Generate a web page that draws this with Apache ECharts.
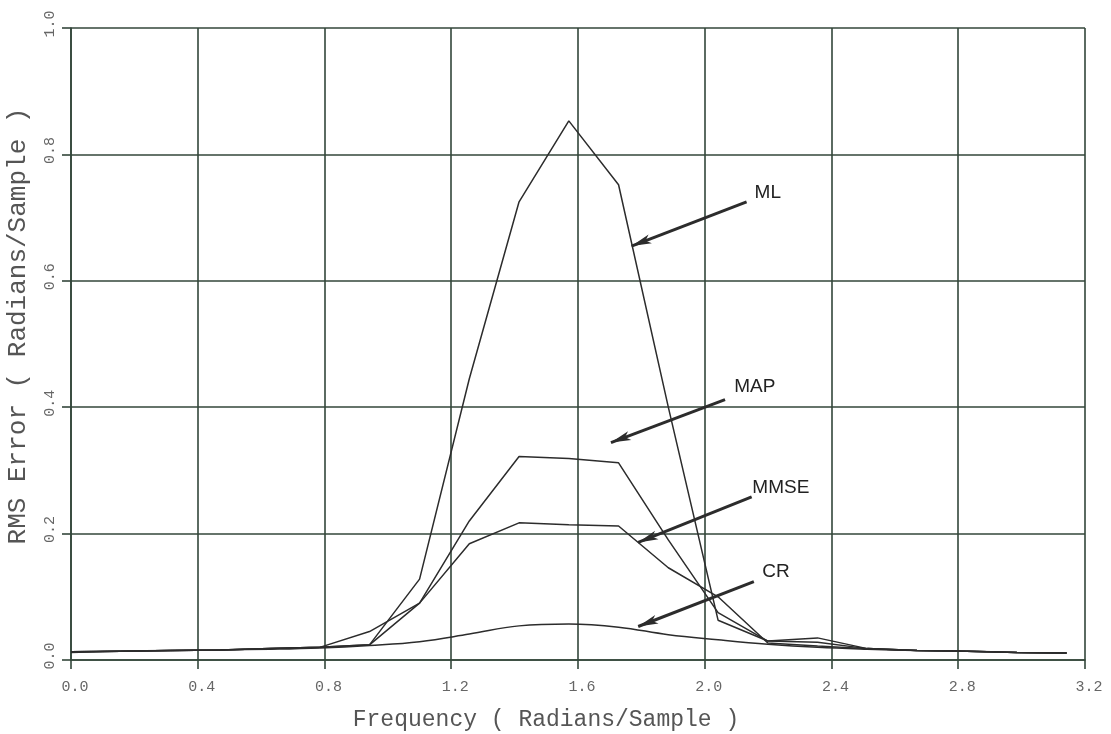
<!DOCTYPE html>
<html><head><meta charset="utf-8">
<script src="https://cdn.jsdelivr.net/npm/echarts@6/dist/echarts.min.js"></script>
<style>html,body{margin:0;padding:0;background:#fff}#c{width:1111px;height:734px}</style>
</head><body><div id="c"></div>
<script>
var freq = [0.000,0.157,0.314,0.471,0.628,0.785,0.942,1.100,1.257,1.414,1.571,1.728,1.885,2.042,2.199,2.356,2.513,2.670,2.827,2.985,3.142];
var ml   = [0.013,0.014,0.015,0.016,0.018,0.020,0.024,0.128,0.445,0.725,0.853,0.752,0.400,0.063,0.030,0.035,0.018,0.015,0.014,0.012,0.011];
var map  = [0.013,0.014,0.015,0.016,0.018,0.020,0.024,0.090,0.220,0.322,0.319,0.312,0.190,0.075,0.030,0.028,0.018,0.015,0.014,0.012,0.011];
var mmse = [0.013,0.014,0.015,0.016,0.018,0.020,0.045,0.090,0.184,0.217,0.214,0.212,0.146,0.100,0.027,0.022,0.018,0.015,0.014,0.012,0.011];
var cr   = [0.012,0.014,0.015,0.016,0.017,0.019,0.023,0.029,0.041,0.054,0.057,0.052,0.040,0.032,0.025,0.020,0.017,0.015,0.014,0.012,0.011];
var xTicks = ['0.0','0.4','0.8','1.2','1.6','2.0','2.4','2.8','3.2'];
var yTicks = ['0.0','0.2','0.4','0.6','0.8','1.0'];
// annotation: [label, labelX, labelY, arrowStartX, arrowStartY, arrowEndX, arrowEndY]
var notes = [
  ['ML',   2.199, 0.740, 2.132, 0.725, 1.769, 0.655],
  ['MAP',  2.158, 0.433, 2.064, 0.412, 1.704, 0.344],
  ['MMSE', 2.240, 0.273, 2.148, 0.258, 1.790, 0.186],
  ['CR',   2.225, 0.140, 2.155, 0.124, 1.790, 0.053]
];
var ink = '#2c2c2c', gridInk = '#33463a';
function pairs(ys){ return freq.map(function(x,i){ return [x, ys[i]]; }); }
var names = ['ML','MAP','MMSE','CR'];
var datas = [ml, map, mmse, cr];
var series = datas.map(function(d, i){
  var n = notes[i];
  return {
    name: names[i], type: 'line', data: pairs(d), showSymbol: false, symbol: 'none',
    smooth: names[i]==='CR' ? 0.4 : false,
    lineStyle: {color: ink, width: 1.5},
    silent: true,
    markLine: {
      silent: true, symbol: ['none','arrow'], symbolSize: [7, 20],
      lineStyle: {color: ink, width: 3, type: 'solid'},
      label: {show: false},
      data: [[{coord:[n[3], n[4]]},{coord:[n[5], n[6]]}]]
    },
    markPoint: {
      silent: true, symbol: 'circle', symbolSize: 0,
      label: {show: true, formatter: n[0], color: '#222', fontFamily: 'Liberation Sans, Arial', fontSize: 19, position: 'inside'},
      data: [{coord:[n[1], n[2]], value: n[0]}]
    }
  };
});
var chart = echarts.init(document.getElementById('c'), null, {renderer:'canvas'});
chart.setOption({
  animation: false,
  backgroundColor: '#fff',
  grid: {left: 71, right: 26, top: 28, bottom: 74, containLabel: false, outerBoundsMode: 'none'},
  xAxis: {
    type: 'value', min: 0, max: 3.2, interval: 0.4,
    name: 'Frequency ( Radians/Sample )', nameLocation: 'middle', nameGap: 48,
    nameTextStyle: {fontFamily: 'Liberation Mono', fontSize: 23, color: '#555', padding: [0, 64, 0, 0]},
    axisLine: {show: true, lineStyle: {color: gridInk, width: 1.6}},
    axisTick: {show: true, length: 9, lineStyle: {color: gridInk, width: 1.6}},
    axisLabel: {fontFamily: 'Liberation Mono', fontSize: 15, color: '#666', margin: 20, padding: [0, 0, 0, 8],
      formatter: function(v){ return xTicks[Math.round(v/0.4)]; }},
    splitLine: {show: true, lineStyle: {color: gridInk, width: 1.6}}
  },
  yAxis: {
    type: 'value', min: 0, max: 1.0, interval: 0.2,
    name: 'RMS Error ( Radians/Sample )', nameLocation: 'middle', nameGap: 40,
    nameTextStyle: {fontFamily: 'Liberation Mono', fontSize: 26, color: '#555', padding: [0, 0, 0, 36]},
    axisLine: {show: true, lineStyle: {color: gridInk, width: 1.6}},
    axisTick: {show: true, length: 9, lineStyle: {color: gridInk, width: 1.6}},
    axisLabel: {fontFamily: 'Liberation Mono', fontSize: 15, color: '#666', rotate: 90, margin: 13, padding: [0, 0, 0, 8],
      formatter: function(v){ return yTicks[Math.round(v/0.2)]; }},
    splitLine: {show: true, lineStyle: {color: gridInk, width: 1.6}}
  },
  series: series
});
</script></body></html>
